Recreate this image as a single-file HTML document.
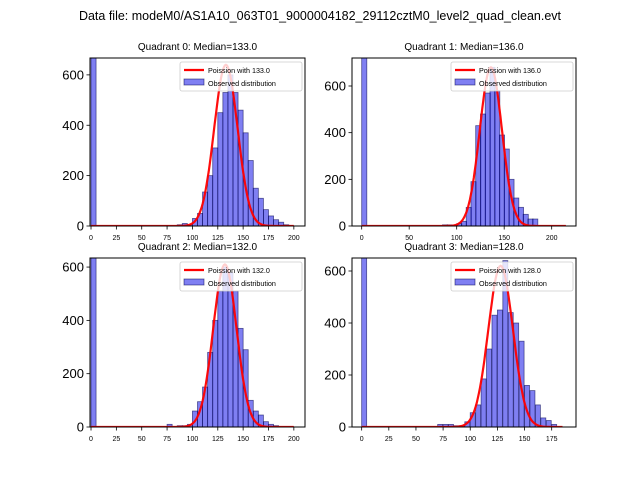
<!DOCTYPE html>
<html><head><meta charset="utf-8"><style>
body{margin:0;background:#fff;}
svg{display:block;font-family:"Liberation Sans","DejaVu Sans",sans-serif;}
</style></head><body>
<svg id="fig" width="640" height="480">
<text x="320" y="20" font-size="12.5" text-anchor="middle">Data file: modeM0/AS1A10_063T01_9000004182_29112cztM0_level2_quad_clean.evt</text>
</svg>
<script>
const medians=[133,136,132,128];
const binWidths=[5,5.4,5,4.6];
const zeroBinCounts=[5000,5000,5000,5000];
const q0Bins=[85,90,95,100,105,110,115,120,125,130,135,140,145,150,155,160,165,170,175,180,185,190];
const q0Counts=[5,10,5,30,50,135,200,310,450,530,600,530,460,370,260,150,110,65,40,25,15,5];
const q1Bins=[85,90,100,105,110,115,120,125,130,135,140,145,150,155,160,165,170,175,180];
const q1Counts=[5,5,10,20,80,190,430,480,570,680,580,390,330,200,120,80,50,30,30];
const q2Bins=[75,85,90,95,100,105,110,115,120,125,130,135,140,145,150,155,160,165,170,175,180];
const q2Counts=[10,5,5,10,60,95,150,280,400,510,600,580,510,370,290,100,60,45,20,10,5];
const q3Bins=[70,75,80,85,90,95,100,105,110,115,120,125,130,135,140,145,150,155,160,165,170,175];
const q3Counts=[10,10,10,5,5,20,55,85,185,300,430,450,640,440,400,330,160,140,85,35,25,10];
const curvePeaks=[640,680,610,620];
const curveMax=[200,215,200,185];
const xTicks=[[0,25,50,75,100,125,150,175,200],[0,50,100,150,200],[0,25,50,75,100,125,150,175,200],[0,25,50,75,100,125,150,175]];
const yTicks=[0,200,400,600];
const yMax=[667,720,634,650];
const xMin=[-1,-10.2,-1,-8.9];
const xMax=[211,225.6,211,197.4];

const NS="http://www.w3.org/2000/svg";
const svg=document.getElementById('fig');
function mk(tag,attrs,parent){const e=document.createElementNS(NS,tag);for(const k in attrs)e.setAttribute(k,attrs[k]);(parent||svg).appendChild(e);return e;}
const boxes=[{l:90,t:58,r:305,b:226},{l:352,t:58,r:576,b:226},{l:90,t:258,r:305,b:427},{l:352,t:258,r:576,b:427}];
const bins=[q0Bins,q1Bins,q2Bins,q3Bins];
const counts=[q0Counts,q1Counts,q2Counts,q3Counts];

for(let q=0;q<4;q++){
  const B=boxes[q];
  const g=mk('g',{});
  
  
  const xs=v=>B.l+(v-xMin[q])/(xMax[q]-xMin[q])*(B.r-B.l);
  const ys=v=>B.b-v/yMax[q]*(B.b-B.t);
  const clipId='clip'+q;
  const cp=mk('clipPath',{id:clipId},g);mk('rect',{x:B.l,y:B.t,width:B.r-B.l,height:B.b-B.t},cp);
  const plot=mk('g',{'clip-path':'url(#'+clipId+')'},g);
  const bw=binWidths[q];
  const z=mk('rect',{x:xs(0),y:ys(zeroBinCounts[q]),width:xs(bw)-xs(0),height:ys(0)-ys(zeroBinCounts[q]),fill:'rgba(0,0,230,0.5)',stroke:'rgba(0,0,80,0.6)','stroke-width':0.8},plot);
  
  
  bins[q].forEach((b,i)=>{
    const c=counts[q][i];
    const r=mk('rect',{x:xs(b),y:ys(c),width:xs(b+bw)-xs(b),height:ys(0)-ys(c),fill:'rgba(0,0,230,0.5)',stroke:'rgba(0,0,80,0.6)','stroke-width':0.8},plot);
    
    
  });
  const mu=medians[q],sd=Math.sqrt(mu);
  let d='';
  for(let v=0;v<=curveMax[q];v+=1){const y=curvePeaks[q]*Math.exp(-0.5*((v-mu)/sd)**2);d+=(v?'L':'M')+xs(v).toFixed(1)+','+ys(y).toFixed(1);}
  const pl=mk('path',{d:d,fill:'none',stroke:'#ff0000','stroke-width':2.2,'stroke-opacity':0.95},plot);
  
  
  mk('rect',{x:B.l,y:B.t,width:B.r-B.l,height:B.b-B.t,fill:'none',stroke:'#000','stroke-width':1},g);
  xTicks[q].forEach(t=>{const x=xs(t);mk('line',{x1:x,x2:x,y1:B.b,y2:B.b+3.5,stroke:'#000','stroke-width':0.8},g);
    const tx=mk('text',{x:x,y:B.b+14,'font-size':7,'text-anchor':'middle'},g);tx.textContent=t;
    
    });
  yTicks.forEach(t=>{const y=ys(t);mk('line',{x1:B.l-3.5,x2:B.l,y1:y,y2:y,stroke:'#000','stroke-width':0.8},g);
    const tx=mk('text',{x:B.l-6,y:y+4.5,'font-size':13,'text-anchor':'end'},g);tx.textContent=t;
    
    });
  const ti=mk('text',{x:(B.l+B.r)/2,y:B.t-8,'font-size':10,'text-anchor':'middle'},g);
  ti.textContent='Quadrant '+q+': Median='+medians[q].toFixed(1);
  
  
  const lg=mk('g',{},g);
  
  
  const lx=B.r-125,ly=B.t+4;
  mk('rect',{x:lx,y:ly,width:122,height:29,fill:'rgba(255,255,255,0.8)',stroke:'#ccc','stroke-width':0.8,rx:2},lg);
  mk('line',{x1:lx+4,x2:lx+24,y1:ly+8,y2:ly+8,stroke:'#f00','stroke-width':2.2},lg);
  const t1=mk('text',{x:lx+28,y:ly+11,'font-size':7.2},lg);t1.textContent='Poission with '+medians[q].toFixed(1);
  
  
  mk('rect',{x:lx+4,y:ly+17,width:20,height:6,fill:'rgba(0,0,230,0.5)',stroke:'rgba(0,0,80,0.6)','stroke-width':0.8},lg);
  const t2=mk('text',{x:lx+28,y:ly+24,'font-size':7.2},lg);t2.textContent='Observed distribution';
  
  
}
</script>
</body></html>
